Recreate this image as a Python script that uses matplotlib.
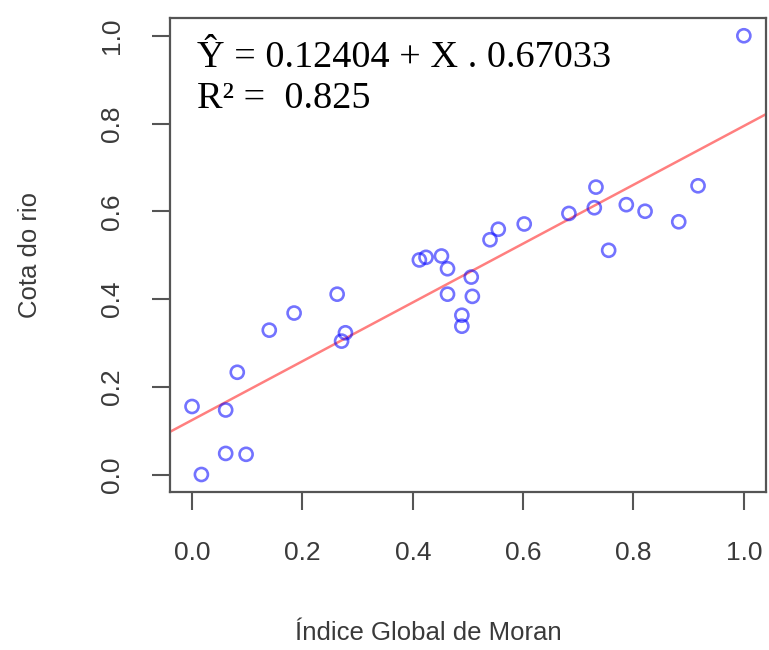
import numpy as np
import matplotlib.pyplot as plt

# normalised Moran index vs river level
moran = [1.000, 0.000, 0.017, 0.061, 0.061, 0.082, 0.098, 0.140, 0.185, 0.263,
         0.271, 0.278, 0.412, 0.424, 0.452, 0.463, 0.463, 0.506, 0.508, 0.489,
         0.489, 0.540, 0.555, 0.602, 0.683, 0.729, 0.732, 0.755, 0.787, 0.821,
         0.882, 0.917]
cota = [1.000, 0.155, 0.000, 0.147, 0.048, 0.233, 0.046, 0.329, 0.368, 0.411,
        0.304, 0.323, 0.489, 0.495, 0.498, 0.469, 0.411, 0.450, 0.406, 0.363,
        0.338, 0.535, 0.559, 0.571, 0.595, 0.608, 0.655, 0.511, 0.615, 0.600,
        0.576, 0.658]
intercept = 0.12404
slope = 0.67033
r2 = 0.825
ticks = [0.0, 0.2, 0.4, 0.6, 0.8, 1.0]

fig = plt.figure(figsize=(7.69, 6.5), dpi=100)
ax = fig.add_axes([0.221, 0.243, 0.775, 0.729])

ax.scatter(moran, cota, s=88, facecolors="none", edgecolors="blue",
           linewidths=1.9, alpha=0.55, zorder=3)

ax.set_xlim(-0.04, 1.04)
ax.set_ylim(-0.04, 1.04)
xs = np.array(ax.get_xlim())
ax.plot(xs, intercept + slope * xs, color="red", alpha=0.5, lw=1.8, zorder=2)

ax.set_xticks(ticks)
ax.set_yticks(ticks)
ax.set_xticklabels([f"{t:.1f}" for t in ticks])
ax.set_yticklabels([f"{t:.1f}" for t in ticks], rotation=90, va="center")
ax.tick_params(axis="both", length=13, width=1.5, color="#555555",
               labelsize=19, labelcolor="#3a3a3a", pad=22,
               labelfontfamily="Liberation Sans")
ax.tick_params(axis="y", pad=20)
for sp in ax.spines.values():
    sp.set_color("#555555")
    sp.set_linewidth(1.6)

ax.set_xlabel("Índice Global de Moran", fontsize=18.5, color="#3a3a3a",
              family="Liberation Sans", va="center")
ax.xaxis.set_label_coords(0.433, -0.297)
ax.set_ylabel("Cota do rio", fontsize=18.5, color="#3a3a3a",
              family="Liberation Sans", va="center")
ax.yaxis.set_label_coords(-0.235, 0.5)

eq = f"Ŷ = {intercept:.5f} + X . {slope:.5f}\nR² =  {r2:.3f}"
ax.text(0.045, 0.952, eq, transform=ax.transAxes, ha="left", va="top",
        fontsize=27.5, family="Liberation Serif", linespacing=1.22)

fig.savefig("out.png", dpi=100)
